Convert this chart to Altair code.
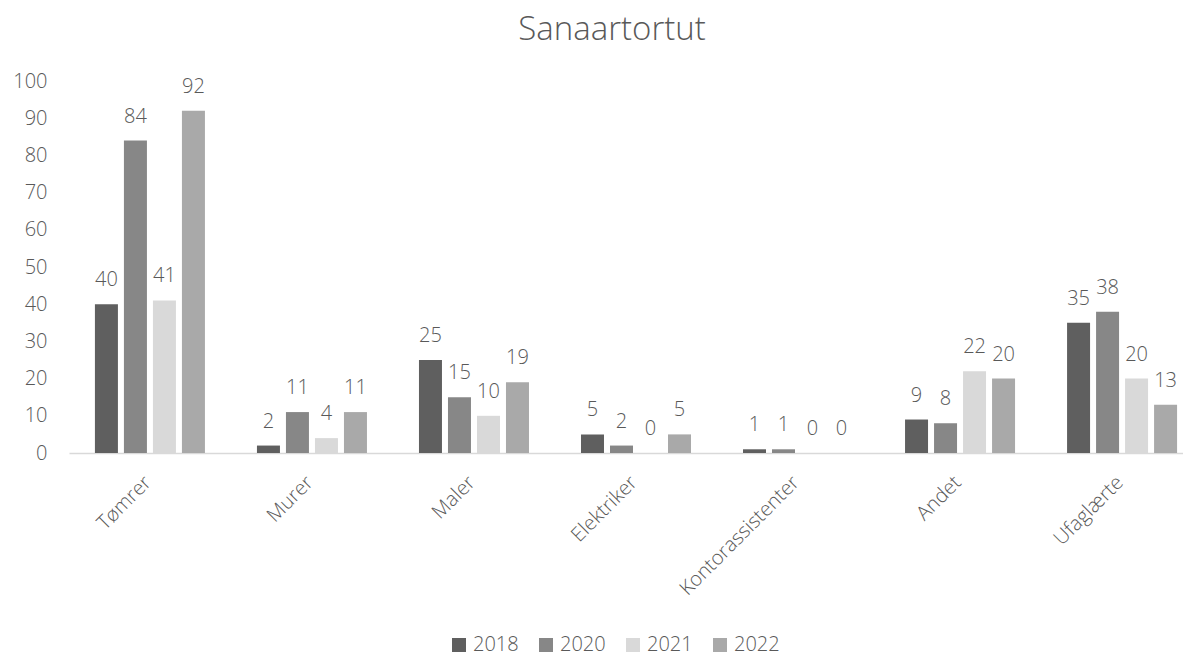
import altair as alt
import pandas as pd

categories = ["Tømrer", "Murer", "Maler", "Elektriker", "Kontorassistenter", "Andet", "Ufaglærte"]
years = ["2018", "2020", "2021", "2022"]
v2018 = [40, 2, 25, 5, 1, 9, 35]
v2020 = [84, 11, 15, 2, 1, 8, 38]
v2021 = [41, 4, 10, 0, 0, 22, 20]
v2022 = [92, 11, 19, 5, 0, 20, 13]
y_ticks = [0, 10, 20, 30, 40, 50, 60, 70, 80, 90, 100]
colors = ["#5f5f5f", "#878787", "#d9d9d9", "#a9a9a9"]

rows = []
for yr, vals in zip(years, [v2018, v2020, v2021, v2022]):
    for c, v in zip(categories, vals):
        rows.append({"kategori": c, "år": yr, "antal": v})
df = pd.DataFrame(rows)

FONT = "Open Sans"
TXT = "#595959"

x = alt.X("kategori:N", sort=categories, title=None,
          scale=alt.Scale(range=[0, 1134], paddingInner=0.321, paddingOuter=0.16),
          axis=alt.Axis(labelAngle=-45, labelFontSize=20, labelFont=FONT, labelColor=TXT,
                        labelFontWeight=300, ticks=False, domainColor="#d9d9d9", domainWidth=1.5,
                        labelPadding=19, labelOffset=-9))
xo = alt.XOffset("år:N", sort=years, scale=alt.Scale(paddingInner=0.207, paddingOuter=0))
y = alt.Y("antal:Q", title=None,
          scale=alt.Scale(domain=[0, 100], nice=False),
          axis=alt.Axis(values=y_ticks, grid=False, domain=False, ticks=False,
                        labelOverlap=False, labelFontSize=20, labelFont=FONT, labelColor=TXT,
                        labelFontWeight=300, labelPadding=22))

bars = alt.Chart(df).mark_bar().encode(
    x=x, xOffset=xo, y=y,
    color=alt.Color("år:N", sort=years, scale=alt.Scale(domain=years, range=colors),
                    legend=alt.Legend(title=None, orient="none", direction="horizontal",
                                      legendX=380, legendY=554, symbolType="square",
                                      symbolSize=196, symbolStrokeWidth=0,
                                      labelFontSize=20, labelFont=FONT, labelColor=TXT,
                                      labelFontWeight=300, columnPadding=17, labelOffset=4)),
)

labels = alt.Chart(df).mark_text(baseline="alphabetic", dy=-18, fontSize=20, font=FONT,
                                 color=TXT, fontWeight=300).encode(
    x=x, xOffset=xo, y=y, text="antal:Q",
)

chart = alt.layer(bars, labels).properties(
    width=1114, height=372,
    autosize=alt.AutoSizeParams(type="none"),
    padding={"left": 61, "top": 73, "right": 0, "bottom": 205},
    title=alt.TitleParams("Sanaartortut", fontSize=33, font=FONT, color=TXT, fontWeight=300,
                          anchor="middle", dx=-14, offset=24),
).configure_view(stroke=None)

chart.save("out.html", embed_options={"renderer": "svg", "actions": False})
